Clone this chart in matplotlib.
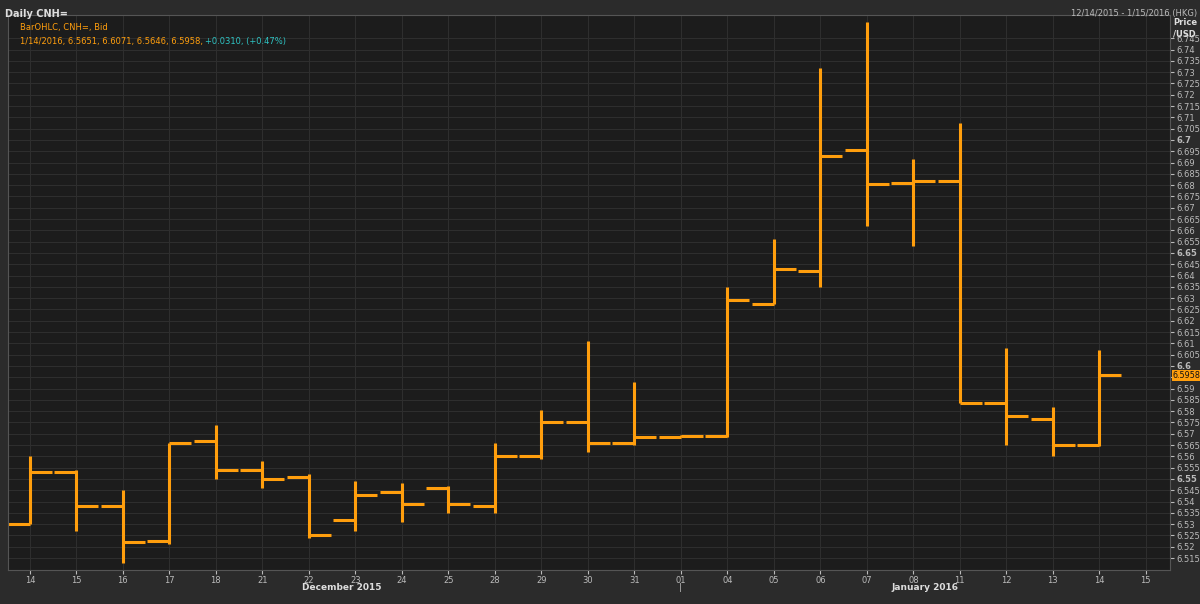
import numpy as np
import matplotlib.pyplot as plt

days = ["14", "15", "16", "17", "18", "21", "22", "23", "24", "25", "28", "29", "30", "31",
        "01", "04", "05", "06", "07", "08", "11", "12", "13", "14"]
opens = [6.530, 6.553, 6.538, 6.5226, 6.567, 6.554, 6.551, 6.532, 6.544, 6.546, 6.538, 6.560,
         6.575, 6.566, 6.5686, 6.569, 6.6275, 6.642, 6.6955, 6.681, 6.6819, 6.5836, 6.5765, 6.5651]
highs = [6.560, 6.554, 6.545, 6.566, 6.574, 6.558, 6.552, 6.549, 6.548, 6.547, 6.566, 6.5805,
         6.611, 6.593, 6.5695, 6.635, 6.656, 6.732, 6.752, 6.6916, 6.7075, 6.608, 6.582, 6.6071]
lows = [6.530, 6.527, 6.513, 6.521, 6.550, 6.546, 6.524, 6.527, 6.531, 6.535, 6.535, 6.559,
        6.562, 6.565, 6.5686, 6.5686, 6.6275, 6.635, 6.662, 6.653, 6.5836, 6.565, 6.560, 6.5646]
closes = [6.553, 6.538, 6.522, 6.566, 6.554, 6.550, 6.525, 6.543, 6.539, 6.539, 6.560, 6.575,
          6.566, 6.5686, 6.569, 6.629, 6.643, 6.693, 6.6805, 6.682, 6.5836, 6.578, 6.565, 6.5958]
xlabels = days + ["15"]

orange = "#ff9e0d"
fig = plt.figure(figsize=(12, 6.04), dpi=100, facecolor="#2b2b2b")
ax = fig.add_axes([8 / 1200, 1 - 570 / 604, 1162 / 1200, 555 / 604])
ax.set_facecolor("#1c1c1c")

x = np.arange(len(days))
w = 0.47
for i in x:
    ax.plot([i, i], [lows[i], highs[i]], color=orange, lw=2.2, solid_capstyle="butt")
    ax.plot([i - w, i], [opens[i], opens[i]], color=orange, lw=2.2, solid_capstyle="butt")
    ax.plot([i, i + w], [closes[i], closes[i]], color=orange, lw=2.2, solid_capstyle="butt")

ax.set_xlim(-0.47, 24.52)
ax.set_ylim(6.5097, 6.7553)
ax.yaxis.tick_right()
yt = np.round(np.arange(6.515, 6.7451, 0.005), 3)
ax.set_yticks(yt)
ax.set_yticklabels([("%g" % v) for v in yt])
for lab, v in zip(ax.get_yticklabels(), yt):
    if round(v * 1000) % 50 == 0:
        lab.set_fontweight("bold")
        lab.set_color("#e0e0e0")
ax.set_xticks(np.arange(len(xlabels)))
ax.set_xticklabels(xlabels)
ax.tick_params(colors="#bbbbbb", labelsize=6, length=3, width=0.8, pad=1.5)
ax.grid(True, color="#2e2e2e", lw=0.8)
ax.set_axisbelow(True)
for s in ax.spines.values():
    s.set_color("#555555")

fig.text(0.004, 0.985, "Daily CNH=", color="#dddddd", fontsize=7, fontweight="bold", va="top")
fig.text(0.998, 0.985, "12/14/2015 - 1/15/2016 (HKG)", color="#bbbbbb", fontsize=6, va="top", ha="right")
fig.text(1173 / 1200, 1 - 18 / 604, "Price\n/USD", color="#dddddd", fontsize=6, fontweight="bold",
         va="top", linespacing=1.3)
ax.text(0.01, 0.985, "BarOHLC, CNH=, Bid", transform=ax.transAxes, color=orange, fontsize=6, va="top")
t = ax.text(0.01, 0.96, "1/14/2016, 6.5651, 6.6071, 6.5646, 6.5958, ", transform=ax.transAxes,
            color=orange, fontsize=6, va="top")
ax.annotate("+0.0310, (+0.47%)", xycoords=t, xy=(1, 0), va="bottom", color="#2ec4c4", fontsize=6)
ax.text(1.002, closes[-1], "6.5958", transform=ax.get_yaxis_transform(), color="#111111", fontsize=5.8,
        va="center", bbox=dict(boxstyle="square,pad=0.1", fc=orange, ec="none"))
fig.text(342 / 1200, 1 - 588 / 604, "December 2015", color="#dddddd", fontsize=6.5, fontweight="bold", ha="center", va="center")
fig.text(925 / 1200, 1 - 588 / 604, "January 2016", color="#dddddd", fontsize=6.5, fontweight="bold", ha="center", va="center")
fig.text(680 / 1200, 1 - 588 / 604, "|", color="#bbbbbb", fontsize=6.5, ha="center", va="center")

fig.savefig("out.png", dpi=100, facecolor=fig.get_facecolor())
